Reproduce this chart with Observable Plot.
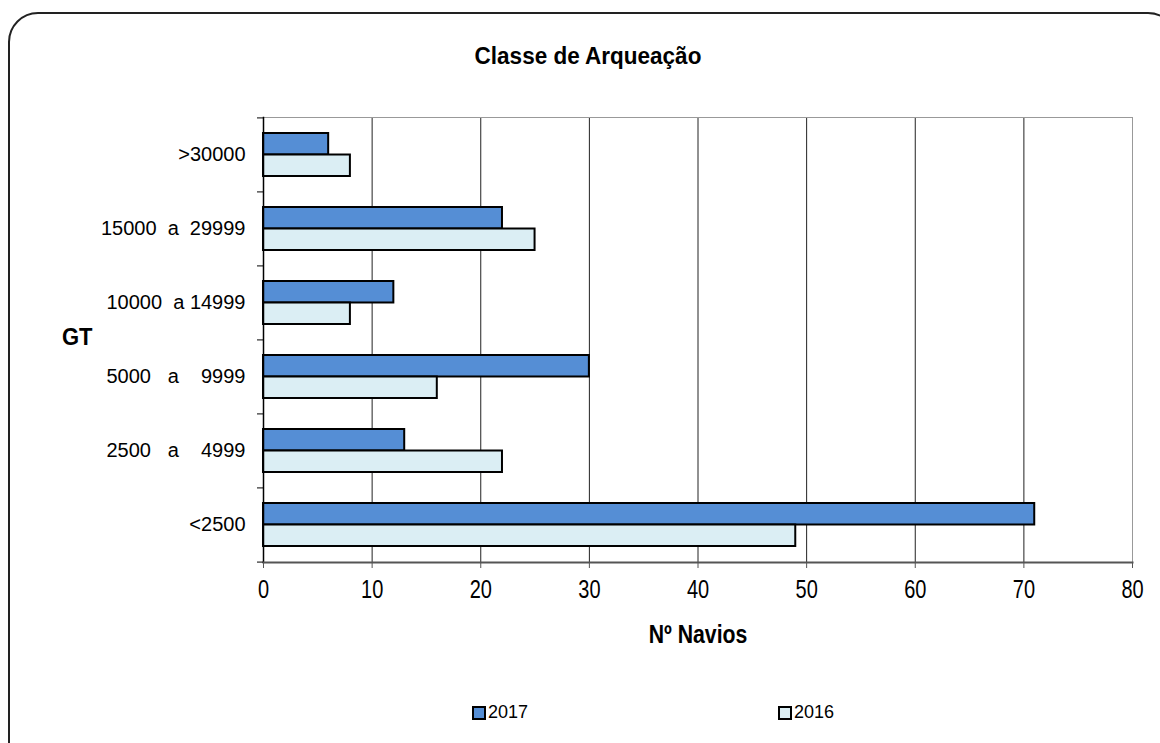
<!DOCTYPE html>
<html>
<head>
<meta charset="utf-8">
<script src="https://cdn.jsdelivr.net/npm/d3@7"></script>
<script src="https://cdn.jsdelivr.net/npm/@observablehq/plot@0.6"></script>
<style>
  html, body { margin: 0; padding: 0; background: #fff; }
  #wrap { position: relative; width: 1160px; height: 743px; overflow: hidden; font-family: "Liberation Sans", Arial, sans-serif; }
  #border { position: absolute; left: 8px; top: 12px; width: 1170px; height: 760px; border: 2px solid #222; border-radius: 30px; box-sizing: border-box; }
  #title { position: absolute; left: 0; width: 1176px; top: 43px; text-align: center; font-weight: bold; font-size: 22.5px; color: #000; transform: scaleY(1.1); }
  #gt { position: absolute; left: 62px; top: 324px; font-weight: bold; font-size: 22px; color: #000; transform: scaleY(1.1); }
  #chart { position: absolute; left: 0; top: 90px; }
  .leg { position: absolute; top: 702px; font-size: 18px; color: #000; display: flex; align-items: center; }
  .sw { display: inline-block; width: 10px; height: 10px; border: 2px solid #000; margin-right: 2px; box-sizing: content-box; }
</style>
</head>
<body>
<div id="wrap">
  <div id="border"></div>
  <div id="title">Classe de Arqueação</div>
  <div id="gt">GT</div>
  <div id="chart"></div>
  <div class="leg" style="left:472px"><span class="sw" style="background:#558ED5"></span>2017</div>
  <div class="leg" style="left:778px"><span class="sw" style="background:#DBEEF4"></span>2016</div>
</div>
<script>
const categories = [">30000", "15000\u00a0\u00a0a\u00a0\u00a029999", "10000\u00a0\u00a0a\u00a014999", "5000\u00a0\u00a0\u00a0a\u00a0\u00a0\u00a0\u00a09999", "2500\u00a0\u00a0\u00a0a\u00a0\u00a0\u00a0\u00a04999", "<2500"];
const values2017 = [6, 22, 12, 30, 13, 71];
const values2016 = [8, 25, 8, 16, 22, 49];
const xTicks = [0, 10, 20, 30, 40, 50, 60, 70, 80];
const color2017 = "#558ED5";
const color2016 = "#DBEEF4";

const d2017 = categories.map((c, i) => ({cat: c, value: values2017[i]}));
const d2016 = categories.map((c, i) => ({cat: c, value: values2016[i]}));

const H = 600, mt = 27, mb = 128;
const step = (H - mt - mb) / categories.length;
const bandwidth = step * (1 - 0.42);

const chart = Plot.plot({
  width: 1160,
  height: H,
  marginLeft: 263,
  marginRight: 28,
  marginTop: mt,
  marginBottom: mb,
  style: { fontFamily: "'Liberation Sans', Arial, sans-serif", background: "transparent", overflow: "visible" },
  x: { domain: [0, 80], ticks: xTicks },
  y: { domain: categories, paddingInner: 0.42, paddingOuter: 0.21, label: null },
  marks: [
    Plot.gridX(xTicks, { stroke: "#222", strokeOpacity: 1, strokeWidth: 1 }),
    Plot.barX(d2017, { y: "cat", x: "value", fill: color2017, stroke: "#000", strokeWidth: 2, insetBottom: bandwidth / 2 }),
    Plot.barX(d2016, { y: "cat", x: "value", fill: color2016, stroke: "#000", strokeWidth: 2, insetTop: bandwidth / 2 }),
    Plot.frame({ stroke: "#999", strokeWidth: 1 }),
    Plot.frame({ anchor: "left", stroke: "#000", strokeWidth: 1.5 }),
    Plot.frame({ anchor: "bottom", stroke: "#555", strokeWidth: 2 }),
    Plot.axisX({ ticks: xTicks, tickSize: 6, tickPadding: 12, stroke: "#555", fontSize: 25, fill: "#000", label: "Nº Navios", labelAnchor: "center", labelOffset: 80, labelArrow: "none" }),
    Plot.axisY({ tickSize: 0, tickPadding: 18, fontSize: 20, fill: "#000", label: null }),
    Plot.axisY({ tickSize: 6, tickFormat: () => "", dy: -step / 2, stroke: "#000", label: null }),
    Plot.axisY({ ticks: ["<2500"], tickSize: 6, tickFormat: () => "", dy: step / 2, stroke: "#000", label: null })
  ]
});
// narrow (condensed) look for x tick labels and the x-axis label
chart.querySelectorAll('g[aria-label="x-axis tick label"] text').forEach(t => {
  const tr = t.getAttribute("transform") || "";
  t.setAttribute("transform", tr + " scale(0.8,1)");
});
chart.querySelectorAll('g[aria-label="x-axis label"] text, text').forEach(t => {
  if (t.textContent === "Nº Navios") {
    t.setAttribute("font-weight", "bold");
    const tr = t.getAttribute("transform") || "";
    t.setAttribute("transform", tr + " scale(0.85,1)");
  }
});
document.getElementById("chart").appendChild(chart);
</script>
</body>
</html>
